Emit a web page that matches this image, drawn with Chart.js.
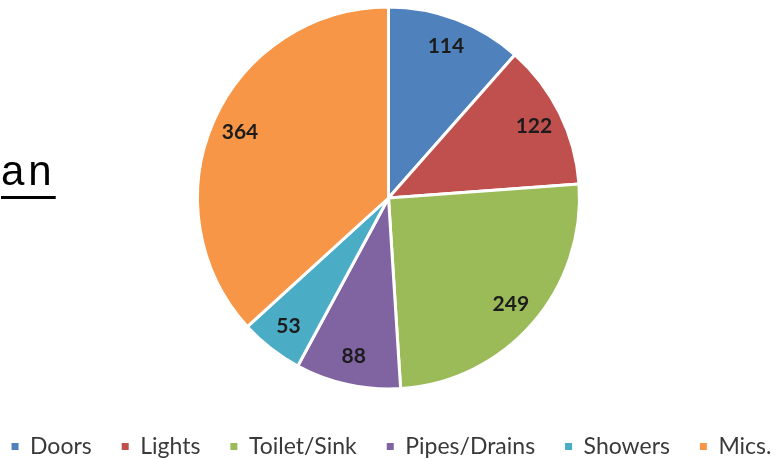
<!DOCTYPE html>
<html lang="en">
<head>
    <meta charset="UTF-8">
    <title>Maintenance requests</title>
    <script src="https://cdn.jsdelivr.net/npm/chart.js"></script>
    <style>
        body { margin: 0; background: #fff; overflow: hidden; }
        #wrap { position: relative; width: 777px; height: 459px; overflow: hidden; }
        #chartBox { position: absolute; left: 0; top: -9px; width: 777px; height: 468px; }
        #slideText {
            position: absolute; left: 1px; top: 150px;
            font-family: "Liberation Sans", Arial, sans-serif; font-size: 42px; line-height: 42px; letter-spacing: 4px;
            color: #000; text-decoration: underline; text-decoration-thickness: 3px; text-underline-offset: 11px;
        }
    </style>
</head>
<body>
    <div id="wrap">
        <div id="chartBox"><canvas id="graficaPie"></canvas></div>
        <div id="slideText">an</div>
    </div>

    <script>
        // Datos
        const categorias = ['Doors', 'Lights', 'Toilet/Sink', 'Pipes/Drains', 'Showers', 'Mics.'];
        const valores = [114, 122, 249, 88, 53, 364];
        const colores = ['#4F81BD', '#C0504D', '#9BBB59', '#8064A2', '#4BACC6', '#F79646'];

        // etiquetas dentro de cada porcion
        const etiquetasPlugin = {
            id: 'etiquetas',
            afterDatasetsDraw(chart) {
                const ctx = chart.ctx;
                const meta = chart.getDatasetMeta(0);
                ctx.save();
                ctx.font = 'bold 21px Lato';
                ctx.fillStyle = '#1c1c1c';
                ctx.textAlign = 'center';
                ctx.textBaseline = 'middle';
                meta.data.forEach((arc, i) => {
                    const p = arc.getProps(['x', 'y', 'startAngle', 'endAngle', 'outerRadius'], true);
                    const mid = (p.startAngle + p.endAngle) / 2;
                    const r = p.outerRadius * 0.85;
                    ctx.fillText(chart.data.datasets[0].data[i], p.x + Math.cos(mid) * r, p.y + Math.sin(mid) * r);
                });
                ctx.restore();
            }
        };

        Chart.defaults.font.family = 'Lato';

        const ctxPie = document.getElementById('graficaPie').getContext('2d');
        const graficaPie = new Chart(ctxPie, {
            type: 'pie',
            data: {
                labels: categorias,
                datasets: [{
                    data: valores,
                    backgroundColor: colores,
                    borderColor: '#ffffff',
                    borderWidth: 3,
                    radius: 191
                }]
            },
            options: {
                responsive: true,
                maintainAspectRatio: false,
                animation: false,
                layout: { padding: { top: 0, bottom: -9, left: -27, right: -33 } },
                plugins: {
                    tooltip: { enabled: false },
                    legend: {
                        position: 'bottom',
                        labels: {
                            boxWidth: 7,
                            boxHeight: 7,
                            padding: 30,
                            color: '#3a3a3a',
                            font: { size: 23 },
                            generateLabels(chart) {
                                const base = Chart.controllers.pie.overrides.plugins.legend.labels.generateLabels(chart);
                                return base.map(item => ({ ...item, lineWidth: 0 }));
                            }
                        }
                    }
                }
            },
            plugins: [etiquetasPlugin]
        });
    </script>
</body>
</html>
